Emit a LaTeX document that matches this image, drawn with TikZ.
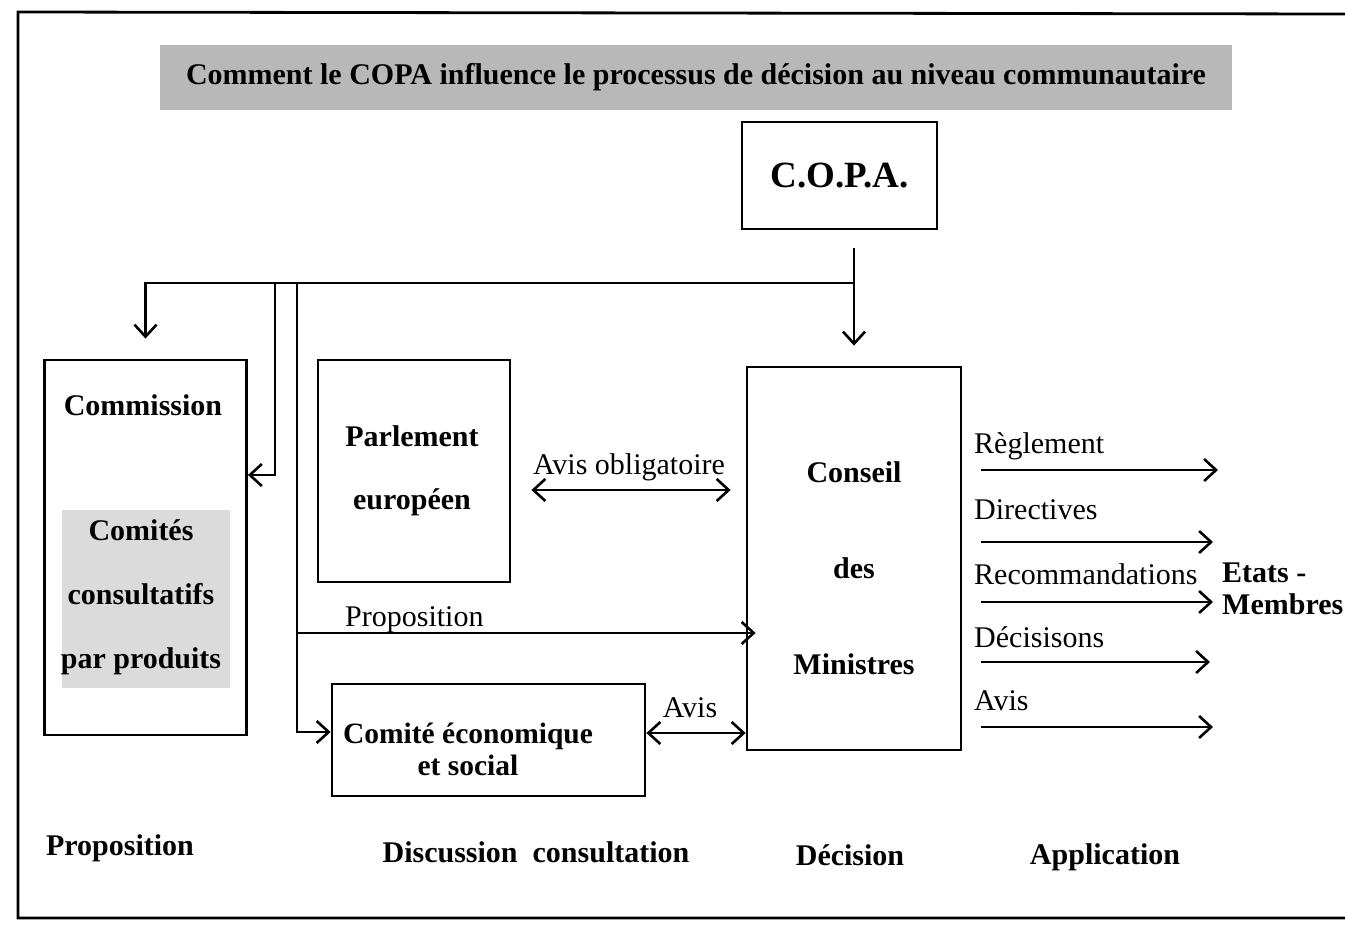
\documentclass[tikz,border=0pt]{standalone}
\usepackage{fontspec}
\setmainfont{Liberation Serif}
\usetikzlibrary{arrows.meta}
\tikzset{
  box/.style={draw,line width=2.8pt,rectangle,inner sep=0pt},
  lab/.style={inner sep=0pt,font=\fontsize{30}{32}\selectfont},
  blab/.style={inner sep=0pt,font=\bfseries\fontsize{30}{32}\selectfont},
  conn/.style={line width=2.6pt},
}
\begin{document}
\begin{tikzpicture}[x=1pt,y=-1pt,>={Straight Barb[length=12pt,width=22pt]},line join=miter]
\useasboundingbox (0,0) rectangle (1345,926);
  % Frame
  \draw[line width=2.8pt] (1345,14) -- (18,12) -- (18,918) -- (1345,918);
%%
  % Node: title
  \node[rectangle,fill=black!28,minimum width=1072pt,minimum height=65pt,inner sep=0pt]
    (title) at (696,77.5) {\bfseries\fontsize{30}{32}\selectfont Comment le COPA influence le processus de décision au niveau communautaire};
  % Node: C.O.P.A.
  \node[box,minimum width=195pt,minimum height=107pt] (copa) at (839.5,175.5)
    {\bfseries\fontsize{37}{40}\selectfont C.O.P.A.};
  % Node: Commission
  \node[box,minimum width=202pt,minimum height=375pt] (commission) at (145.5,547.5) {};
  \node[blab] (commtxt) at (143,405) {Commission};
  \node[rectangle,fill=black!14,minimum width=168pt,minimum height=178pt,inner sep=0pt] (comites) at (146,599) {};
  \node[blab,align=center,font=\bfseries\fontsize{30}{64}\selectfont] (comitestxt) at (141,597)
    {Comités\\consultatifs\\par produits};
  % Node: Parlement européen
  \node[box,minimum width=192pt,minimum height=222pt] (parlement) at (414,471) {};
  \node[blab,align=center,font=\bfseries\fontsize{30}{63}\selectfont] (parltxt) at (412,471)
    {Parlement\\européen};
  % Node: Conseil des Ministres
  \node[box,minimum width=214pt,minimum height=383pt] (conseil) at (854,558.5) {};
  \node[blab,align=center,font=\bfseries\fontsize{30}{96}\selectfont] (conseiltxt) at (854,568)
    {Conseil\\des\\Ministres};
  % Node: Comité économique et social
  \node[box,minimum width=313pt,minimum height=112pt] (ces) at (488.5,740) {};
  \node[blab,align=center,font=\bfseries\fontsize{29.5}{32}\selectfont] (cestxt) at (468,749)
    {Comité économique\\et social};
  % Node: Etats - Membres
  \node[blab,align=left,anchor=west] (etats) at (1222,589) {Etats -\\Membres};
%%
  % Junctions
  \coordinate (copaout) at (854,248);
  \coordinate (jtop) at (854,283);
  \coordinate (jcomm) at (275,283);
  \coordinate (jces) at (297,283);
  \coordinate (jprop) at (297,633);
  % Edge: C.O.P.A. -> Conseil
  \draw[conn] (copaout) -- (jtop);
  \draw[conn,->,shorten >=20pt] (jtop) -- (conseil.north);
  % Edge: C.O.P.A. -> Commission
  \draw[conn,->,shorten >=20pt] (jtop) -| (commission.north);
  \draw[conn,->] (jcomm) |- (commission.east |- 0,475);
  % Edge: C.O.P.A. -> Comité économique et social
  \draw[conn,->] (jces) |- (ces.west |- 0,732);
  % Edge: Proposition -> Conseil
  \draw[conn,->,shorten >=-10pt] (jprop) -- (conseil.west |- jprop);
  \node[lab,anchor=west] (proplab) at (345,620) {Proposition};
  % Edge: Parlement <-> Conseil
  \draw[conn,<->,shorten <=20pt,shorten >=15pt] (parlement.east |- 0,490) -- (conseil.west |- 0,490);
  \node[lab] (avisobl) at (629,467) {Avis obligatoire};
  % Edge: Comité économique et social <-> Conseil
  \draw[conn,<->] (ces.east |- 0,733) -- (conseil.west |- 0,733);
  \node[lab] (avislab) at (690,708) {Avis};
%%
  % Edge: Conseil -> Etats - Membres
  \coordinate (reglend) at (1218,470);
  \coordinate (dirend) at (1213,542);
  \coordinate (recend) at (1213,602);
  \coordinate (decend) at (1210,662);
  \coordinate (avisend) at (1213,727);
  \draw[conn,->,shorten <=19pt] (conseil.east |- reglend) -- (reglend);
  \draw[conn,->,shorten <=19pt] (conseil.east |- dirend) -- (dirend);
  \draw[conn,->,shorten <=19pt] (conseil.east |- recend) -- (recend);
  \draw[conn,->,shorten <=19pt] (conseil.east |- decend) -- (decend);
  \draw[conn,->,shorten <=19pt] (conseil.east |- avisend) -- (avisend);
  \node[lab,anchor=west] (regl) at (974,446) {Règlement};
  \node[lab,anchor=west] (dir) at (974,510) {Directives};
  \node[lab,anchor=west] (rec) at (974,574) {Recommandations};
  \node[lab,anchor=west] (dec) at (974,637) {Décisisons};
  \node[lab,anchor=west] (avisout) at (974,701) {Avis};
%%
  % Stages
  \node[blab] (stprop) at (120,848) {Proposition};
  \node[blab] (stdisc) at (536,852) {Discussion\enspace consultation};
  \node[blab] (stdec) at (850,855) {Décision};
  \node[blab] (stappl) at (1105,857) {Application};
%
\end{tikzpicture}
\end{document}
